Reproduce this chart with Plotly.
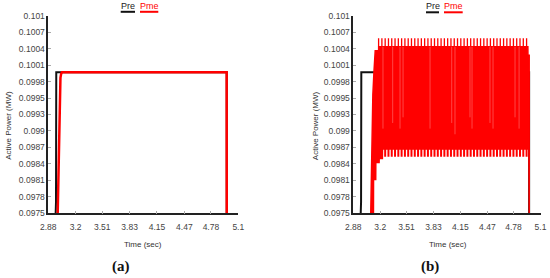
import plotly.graph_objects as go

# axis ticks (shared by both panels)
x_tick_vals = [2.88, 3.2, 3.51, 3.83, 4.15, 4.47, 4.78, 5.1]
x_tick_text = ["2.88", "3.2", "3.51", "3.83", "4.15", "4.47", "4.78", "5.1"]
y_tick_vals = [0.0975, 0.0977917, 0.0980833, 0.098375, 0.0986667, 0.0989583,
               0.09925, 0.0995417, 0.0998333, 0.100125, 0.1004167, 0.1007083, 0.101]
y_tick_text = ["0.0975", "0.0978", "0.0981", "0.0984", "0.0987", "0.099", "0.0993",
               "0.0995", "0.0998", "0.1001", "0.1004", "0.1007", "0.101"]

# panel (a)
pre_a_t = [2.966, 2.970, 2.973, 4.965, 4.965]
pre_a_v = [0.0975, 0.0977, 0.1000, 0.1000, 0.0975]
pme_a_t = [2.990, 3.000, 3.010, 3.017, 3.022, 3.030, 3.040, 4.964, 4.965]
pme_a_v = [0.0975, 0.0982, 0.0990, 0.09975, 0.0999, 0.09997, 0.1000, 0.1000, 0.0975]

# panel (b)
pre_b_t = [2.968, 2.972, 2.975, 4.965, 4.965]
pre_b_v = [0.0975, 0.0977, 0.1000, 0.1000, 0.0975]
# envelope of the fast Pme oscillation
pme_b_up_t = [3.087, 3.100, 3.112, 3.125, 3.140, 3.180, 3.181, 4.950, 4.951, 4.966]
pme_b_up_v = [0.0975, 0.0988, 0.0996, 0.1000, 0.10038, 0.10038, 0.10045, 0.10045, 0.1003, 0.1003]
pme_b_lo_t = [3.087, 3.119, 3.120, 3.146, 3.147, 3.186, 3.187, 3.225, 3.226, 4.962, 4.966]
pme_b_lo_v = [0.0975, 0.0975, 0.0981, 0.0981, 0.0984, 0.0984, 0.09847, 0.09847,
              0.09864, 0.09864, 0.0975]
# ripple teeth on the envelope edges
tooth_t = [3.180, 3.219, 3.258, 3.297, 3.336, 3.375, 3.414, 3.453, 3.492, 3.531,
           3.570, 3.609, 3.648, 3.687, 3.726, 3.765, 3.804, 3.843, 3.882, 3.921,
           3.960, 3.999, 4.038, 4.077, 4.116, 4.155, 4.194, 4.233, 4.272, 4.311,
           4.350, 4.389, 4.428, 4.467, 4.506, 4.545, 4.584, 4.623, 4.662, 4.701,
           4.740, 4.779, 4.818, 4.857, 4.896, 4.935]
tooth_top = [0.10045, 0.1006]
tooth_bottom = [0.09864, 0.0985]
# faint light streaks inside the band (aliasing of the ripple)
streak_t = [3.232, 3.347, 3.434, 3.470, 3.790, 4.047, 4.086, 4.264, 4.288,
            4.501, 4.537, 4.798, 4.846]
streak_low = [0.0990, 0.0991, 0.0990, 0.0992, 0.0990, 0.0991, 0.0989, 0.0992,
              0.0990, 0.0991, 0.0990, 0.0992, 0.0990]

RED = "#ff0000"
BLACK = "#111111"

W, H = 550, 278


def px(x):
    return x / W


def py(y):
    return 1 - y / H


fig = go.Figure()

# (a)
fig.add_trace(go.Scatter(x=pre_a_t, y=pre_a_v, mode="lines", name="Pre",
                         line=dict(color=BLACK, width=2), xaxis="x", yaxis="y"))
fig.add_trace(go.Scatter(x=pme_a_t, y=pme_a_v, mode="lines", name="Pme",
                         line=dict(color=RED, width=2.5), xaxis="x", yaxis="y"))

# (b)
fig.add_trace(go.Scatter(x=pre_b_t, y=pre_b_v, mode="lines", name="Pre",
                         line=dict(color=BLACK, width=2), xaxis="x2", yaxis="y2"))
band_x = pme_b_up_t + pme_b_lo_t[::-1]
band_y = pme_b_up_v + pme_b_lo_v[::-1]
fig.add_trace(go.Scatter(x=band_x, y=band_y, mode="lines", fill="toself",
                         fillcolor=RED, line=dict(color=RED, width=1.5),
                         xaxis="x2", yaxis="y2"))
tx, ty, bx, by = [], [], [], []
for t in tooth_t:
    tx += [t, t, None]
    ty += tooth_top + [None]
    if t >= 3.22:
        bx += [t, t, None]
        by += tooth_bottom + [None]
fig.add_trace(go.Scatter(x=tx, y=ty, mode="lines", line=dict(color=RED, width=1.3),
                         xaxis="x2", yaxis="y2"))
fig.add_trace(go.Scatter(x=bx, y=by, mode="lines", line=dict(color=RED, width=2),
                         xaxis="x2", yaxis="y2"))
sx, sy = [], []
for t, lo in zip(streak_t, streak_low):
    sx += [t, t, None]
    sy += [tooth_top[0], lo, None]
fig.add_trace(go.Scatter(x=sx, y=sy, mode="lines",
                         line=dict(color="rgba(255,255,255,0.35)", width=0.8),
                         xaxis="x2", yaxis="y2"))

tick_font = dict(family="Liberation Sans, Arial", size=8.5, color="#444444")
xa = dict(range=[2.88, 5.1], tickvals=x_tick_vals, ticktext=x_tick_text,
          showline=True, linecolor="#222222", linewidth=1.5, ticks="inside",
          ticklen=3, tickcolor="#aaaaaa", showgrid=False, zeroline=False,
          tickfont=tick_font, ticklabelstandoff=5, automargin=False)
ya = dict(range=[0.0975, 0.101], tickvals=y_tick_vals, ticktext=y_tick_text,
          showline=True, linecolor="#222222", linewidth=1.5, ticks="inside",
          ticklen=3, tickcolor="#aaaaaa", showgrid=False, zeroline=False,
          tickfont=tick_font, ticklabelstandoff=0,
          domain=[py(213.3), py(15.7)], automargin=False)

label_font = dict(family="Liberation Sans, Arial", size=8, color="#333333")
annotations = []
shapes = []


def note(text, x, y, font, angle=0):
    return dict(text=text, x=px(x), y=py(y), xref="paper", yref="paper",
                xanchor="center", yanchor="middle", showarrow=False,
                textangle=angle, font=font)


for cx, tx_c, cap, cap_x, pre_c, pme_c, pre_span, pme_span, uy in [
        (8.3, 143.3, "(a)", 120.8, 127.5, 149.0, (120.7, 135.0), (140.0, 158.3), 11.8),
        (315.7, 447.5, "(b)", 430.0, 432.5, 453.3, (426.0, 439.0), (444.0, 462.7), 12.3)]:
    annotations.append(note("Active Power (MW)", cx, 125.5, label_font, -90))
    annotations.append(note("Time (sec)", tx_c, 244, label_font))
    annotations.append(note("<b>" + cap + "</b>", cap_x, 266.7,
                            dict(family="Liberation Serif, serif", size=15,
                                 color="#111111")))
    annotations.append(note("Pre", pre_c, 6.5,
                            dict(family="Liberation Sans, Arial", size=9,
                                 color="#222222")))
    annotations.append(note("Pme", pme_c, 6.5,
                            dict(family="Liberation Sans, Arial", size=9, color=RED)))
    shapes.append(dict(type="line", xref="paper", yref="paper",
                       x0=px(pre_span[0]), x1=px(pre_span[1]), y0=py(uy), y1=py(uy),
                       line=dict(color=BLACK, width=2)))
    shapes.append(dict(type="line", xref="paper", yref="paper",
                       x0=px(pme_span[0]), x1=px(pme_span[1]), y0=py(uy), y1=py(uy),
                       line=dict(color=RED, width=2)))

fig.update_layout(
    width=W, height=H,
    margin=dict(l=0, r=0, t=0, b=0),
    paper_bgcolor="white", plot_bgcolor="white",
    showlegend=False,
    hovermode=False,
    xaxis=dict(xa, domain=[px(48.3), px(238.3)], anchor="y"),
    yaxis=dict(ya, anchor="x"),
    xaxis2=dict(xa, domain=[px(353.3), px(540.5)], anchor="y2"),
    yaxis2=dict(ya, anchor="x2"),
    annotations=annotations,
    shapes=shapes,
)

# drop the default 8px body margin so the figure fills the window
fig.write_html("out.html", config={"displayModeBar": False},
               post_script="document.body.style.margin = '0';")
